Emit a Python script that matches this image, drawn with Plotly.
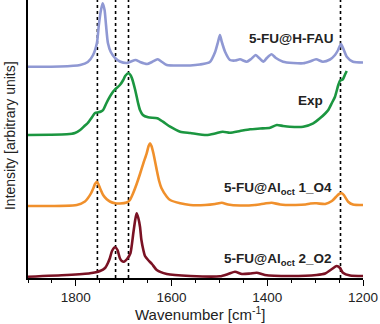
import plotly.graph_objects as go

# ---- data (wavenumber in cm^-1, intensity in arbitrary units incl. vertical offset) ----
hfau_wn = [1900, 1833, 1791, 1775, 1764, 1756, 1752, 1747.5, 1744, 1740, 1737, 1733, 1727, 1718,
           1708, 1693, 1685, 1675, 1666, 1651, 1641, 1629, 1620, 1610, 1582, 1561, 1541, 1520,
           1509, 1503, 1499, 1495, 1488, 1478, 1467, 1457, 1443, 1434, 1424, 1417, 1408, 1401,
           1391, 1382, 1367, 1346, 1325, 1311, 1298, 1284, 1269, 1258.5, 1252, 1246, 1240,
           1234, 1221, 1200]
hfau_int = [211.3, 211.5, 213, 216, 223, 235, 253, 268, 274.7, 268, 253, 235, 226, 220,
            216.5, 215, 216.5, 218, 216, 214, 216, 218.7, 216, 213, 212.5, 212.5, 213.5, 216,
            226, 236, 243, 236, 226, 218, 217.5, 218.7, 216.3, 219, 223, 220, 216.3, 220,
            223.7, 220, 216.3, 215, 214.7, 216.5, 218.7, 216.3, 218.5, 223, 228, 234, 228,
            221.3, 216.3, 215.5]

exp_wn = [1900, 1854, 1819, 1802, 1791, 1781, 1775, 1766, 1760, 1753, 1747.5, 1743, 1737, 1729,
          1722, 1718, 1708, 1701, 1697, 1690, 1686, 1683, 1676, 1670, 1666, 1660, 1649, 1630,
          1618, 1603, 1582, 1561, 1527, 1509, 1493, 1478, 1457, 1436, 1415, 1394, 1380, 1367,
          1353, 1325, 1304, 1290, 1279, 1272.5, 1265, 1258.5, 1251.6, 1248, 1242, 1238, 1234]
exp_int = [143, 143.2, 143.7, 145, 148, 152.5, 155, 161, 165, 165.7, 166.5, 168, 174, 181.3,
           186.5, 188.7, 193, 198, 202, 204.7, 203, 200, 188, 175, 168, 163, 160.7, 159.7,
           156.3, 151.3, 146.3, 145, 143, 144.5, 146.3, 145.3, 147, 148.7, 149.5, 150.3, 153,
           152, 151.3, 151.3, 154.7, 159.7, 164.5, 168, 175, 181.3, 193, 197.3, 198.7, 203, 207]

o4_wn = [1900, 1798, 1781, 1775, 1768, 1763.5, 1760, 1756, 1753, 1749.5, 1743, 1735.5, 1729,
         1718, 1708, 1694, 1687, 1681, 1673, 1666, 1659, 1652, 1648, 1645, 1642, 1638, 1631,
         1626, 1621, 1610, 1603, 1582, 1561, 1530, 1509, 1495, 1482, 1457, 1426, 1405, 1391,
         1373, 1341, 1320, 1310, 1297, 1279, 1265, 1256.5, 1250, 1244.5, 1240, 1231, 1221, 1200]
o4_int = [72, 73, 76.5, 79.7, 85, 89.7, 94, 96.3, 94, 89.7, 83, 78.7, 76.5,
          74.7, 74.5, 75.5, 78, 84, 94, 104, 114.7, 124.7, 132, 134.7, 132, 124.7, 108,
          97, 89.7, 81.3, 78, 74.7, 73, 73, 74, 75.3, 73.5, 72.5, 73, 74.5, 75.3,
          73.5, 73, 73.5, 74.5, 74.7, 74, 77, 81, 84, 84.7, 83, 76.3, 73.5, 73]

o2_wn = [1900, 1819, 1770.5, 1749.5, 1739, 1733, 1729, 1724.5, 1718, 1713, 1708, 1704, 1699.4,
         1693, 1686, 1680, 1676, 1673, 1669.5, 1666, 1663, 1659, 1655.5, 1649, 1641, 1631,
         1610, 1561, 1499, 1482, 1467.5, 1453, 1436, 1422, 1405, 1353, 1297, 1279, 1265, 1255,
         1248, 1242, 1227, 1200]
o2_int = [1.3, 3, 4.7, 7, 10, 15, 19.7, 27, 30.7, 28, 19.7, 17, 16.3,
          19, 24.7, 44.7, 58, 64.7, 60, 51.3, 38, 28, 22, 18, 14, 8,
          4, 2, 1.7, 4, 6.3, 4, 4.5, 5.3, 3, 2, 3, 4.5, 9, 12,
          10, 5.3, 2.5, 2]

marker_wn = [1755, 1717, 1690, 1247]

series_names = ["5-FU@H-FAU", "Exp", "5-FU@Al<sub>oct</sub> 1_O4", "5-FU@Al<sub>oct</sub> 2_O2"]
series_colors = ["#8f98d3", "#1b9640", "#f0902c", "#7a1224"]

x_ticks = [1800, 1600, 1400, 1200]

fig = go.Figure()
for xs, ys, name, col in zip([hfau_wn, exp_wn, o4_wn, o2_wn],
                             [hfau_int, exp_int, o4_int, o2_int],
                             series_names, series_colors):
    fig.add_trace(go.Scatter(x=xs, y=ys, mode="lines", name=name,
                             line=dict(color=col, width=2.6, shape="spline", smoothing=0.6),
                             showlegend=False, hoverinfo="skip", cliponaxis=False))

for w in marker_wn:
    fig.add_shape(type="line", xref="x", yref="paper", x0=w, x1=w, y0=0, y1=1,
                  line=dict(color="black", width=1.6, dash="dot"), layer="below")

FONT = "Liberation Sans, Arial, sans-serif"
label_font = dict(family=FONT, size=13.5, color="#222222")
label_pos = [(1258, 240), (1279, 178), (1260, 90), (1260, 19)]
for (lx, ly), txt in zip(label_pos, series_names):
    fig.add_annotation(x=lx, y=ly, xref="x", yref="y", text="<b>" + txt + "</b>",
                       showarrow=False, xanchor="right", yanchor="middle", font=label_font)

# axis titles
fig.add_annotation(x=0.516, y=-0.126, xref="paper", yref="paper",
                   text="Wavenumber [cm<sup>-1</sup>]", showarrow=False,
                   xanchor="center", yanchor="middle",
                   font=dict(family=FONT, size=15, color="#222222"))
fig.add_annotation(x=-0.054, y=0.514, xref="paper", yref="paper",
                   text="Intensity [arbitrary units]", showarrow=False, textangle=-90,
                   xanchor="center", yanchor="middle",
                   font=dict(family=FONT, size=14, color="#222222"))

fig.update_layout(
    width=380, height=324,
    margin=dict(l=28, r=17, t=0, b=46, autoexpand=False),
    paper_bgcolor="white", plot_bgcolor="white",
    font=dict(family=FONT, color="#222222"),
    xaxis=dict(range=[1900, 1200], tickvals=x_ticks, ticks="outside", ticklen=6,
               tickwidth=1.3, tickcolor="black", showline=True, linecolor="black",
               linewidth=1.5, showgrid=False, zeroline=False, automargin=False,
               tickfont=dict(family=FONT, size=13.5, color="#222222"),
               minor=dict(dtick=50, tick0=1200, ticks="outside", ticklen=3.5,
                          tickwidth=1.2, tickcolor="black", showgrid=False)),
    yaxis=dict(range=[0, 278], showticklabels=False, ticks="", showline=True,
               linecolor="black", linewidth=1.5, showgrid=False, zeroline=False,
               automargin=False),
)

fig.write_html("out.html", config={"displayModeBar": False},
               post_script="document.body.style.margin='0';document.body.style.padding='0';")
